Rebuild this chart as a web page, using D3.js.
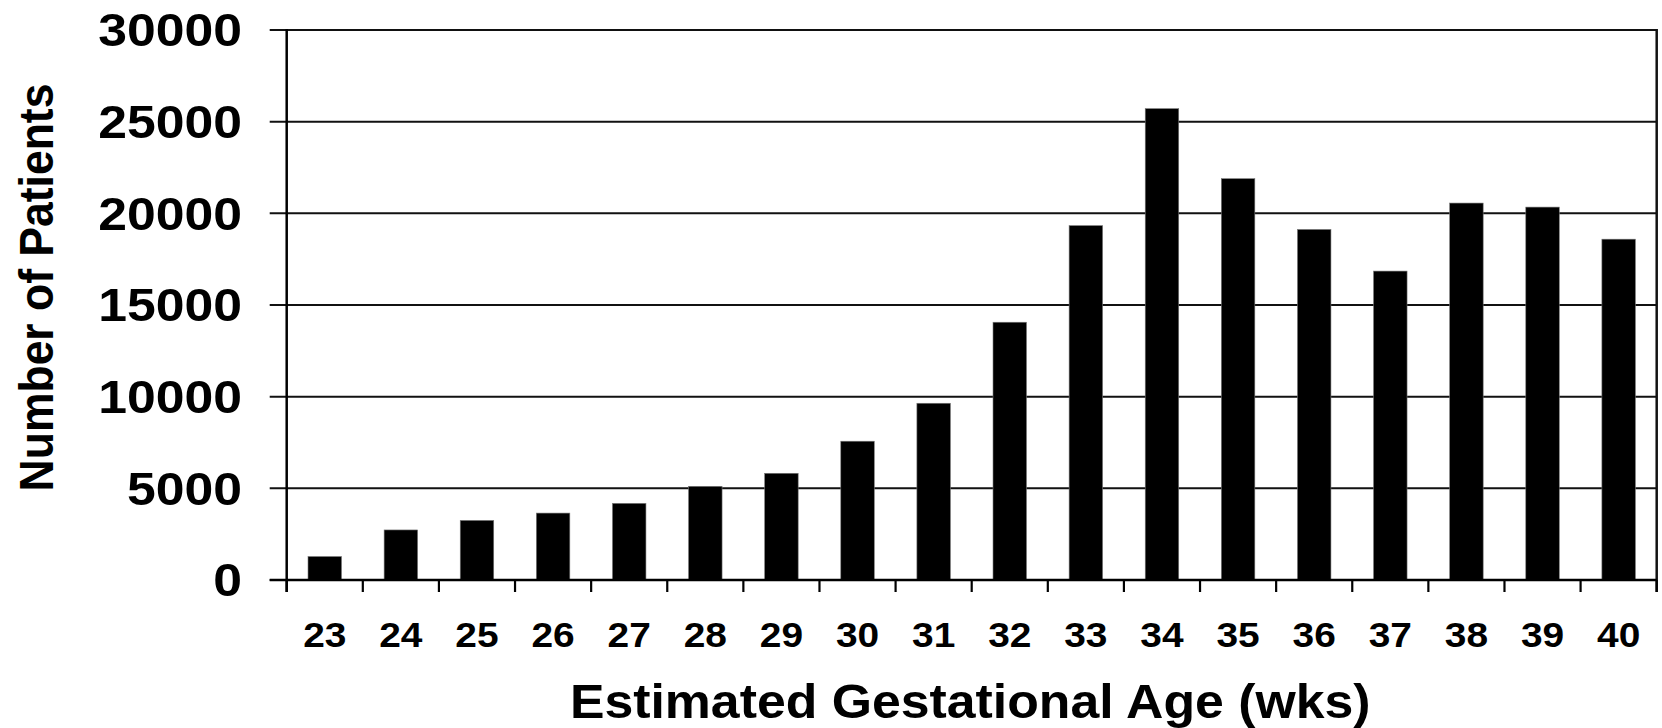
<!DOCTYPE html>
<html>
<head>
<meta charset="utf-8">
<script src="https://cdn.jsdelivr.net/npm/d3@7"></script>
<style>
  html, body { margin: 0; padding: 0; background: #fff; }
  svg { display: block; }
  text { font-family: "Liberation Sans", Arial, sans-serif; font-weight: bold; fill: #000; }
</style>
</head>
<body>
<svg id="chart" width="1662" height="728"></svg>
<script>
const categories = ["23","24","25","26","27","28","29","30","31","32","33","34","35","36","37","38","39","40"];
const patients = [1280, 2730, 3250, 3650, 4180, 5110, 5820, 7570, 9640, 14060, 19330, 25710, 21890, 19120, 16850, 20560, 20340, 18590];
const yTicks = [0, 5000, 10000, 15000, 20000, 25000, 30000];
const xTitle = "Estimated Gestational Age (wks)";
const yTitle = "Number of Patients";

const W = 1662, H = 728;
const plot = { left: 286.7, right: 1656.7, top: 30, bottom: 580 };

const svg = d3.select("#chart");

const x = d3.scaleBand()
  .domain(categories)
  .range([plot.left, plot.right])
  .paddingInner(0.56)
  .paddingOuter(0.28);

const y = d3.scaleLinear()
  .domain([0, 30000])
  .range([plot.bottom, plot.top]);

// gridlines (extending left as tick marks)
svg.append("g").selectAll("line")
  .data(yTicks)
  .join("line")
  .attr("x1", plot.left - 17)
  .attr("x2", plot.right)
  .attr("y1", d => y(d))
  .attr("y2", d => y(d))
  .attr("stroke", "#111")
  .attr("stroke-width", 2);

// right border
svg.append("line")
  .attr("x1", plot.right).attr("x2", plot.right)
  .attr("y1", plot.top - 1).attr("y2", plot.bottom + 12)
  .attr("stroke", "#111").attr("stroke-width", 2.5);

// bars
svg.append("g").selectAll("rect")
  .data(categories)
  .join("rect")
  .attr("x", d => x(d))
  .attr("width", x.bandwidth())
  .attr("y", (d, i) => y(patients[i]))
  .attr("height", (d, i) => y(0) - y(patients[i]))
  .attr("fill", "#000")
  .attr("stroke", "#777")
  .attr("stroke-width", 0.6);

// y axis line
svg.append("line")
  .attr("x1", plot.left).attr("x2", plot.left)
  .attr("y1", plot.top - 1).attr("y2", plot.bottom + 12)
  .attr("stroke", "#000").attr("stroke-width", 2.5);

// x axis line
svg.append("line")
  .attr("x1", plot.left - 17).attr("x2", plot.right)
  .attr("y1", plot.bottom).attr("y2", plot.bottom)
  .attr("stroke", "#000").attr("stroke-width", 2.5);

// x ticks at band boundaries
const step = x.step();
const boundaries = categories.map(c => x(c) - x.paddingInner() * step / 2);
boundaries.push(plot.right);
svg.append("g").selectAll("line")
  .data(boundaries)
  .join("line")
  .attr("x1", d => d).attr("x2", d => d)
  .attr("y1", plot.bottom).attr("y2", plot.bottom + 12)
  .attr("stroke", "#000").attr("stroke-width", 2.2);

// y tick labels
const yFs = 46, ySx = 1.125;
svg.append("g").selectAll("text")
  .data(yTicks)
  .join("text")
  .attr("transform", d => `translate(242,${y(d) + yFs * 0.358}) scale(${ySx},1)`)
  .attr("text-anchor", "end")
  .style("font-size", yFs + "px")
  .text(d => d);

// x tick labels
const xFs = 36, xSx = 1.08;
svg.append("g").selectAll("text")
  .data(categories)
  .join("text")
  .attr("transform", d => `translate(${x(d) + x.bandwidth() / 2},647) scale(${xSx},1)`)
  .attr("text-anchor", "middle")
  .style("font-size", xFs + "px")
  .text(d => d);

// x title
svg.append("text")
  .attr("transform", `translate(${(plot.left + plot.right) / 2 - 1.5},717.5) scale(1.09,1)`)
  .attr("text-anchor", "middle")
  .style("font-size", "47.5px")
  .text(xTitle);

// y title
svg.append("text")
  .attr("transform", `translate(53,${287.5}) scale(1.085,1) rotate(-90)`)
  .attr("text-anchor", "middle")
  .style("font-size", "44.5px")
  .text(yTitle);
</script>
</body>
</html>
